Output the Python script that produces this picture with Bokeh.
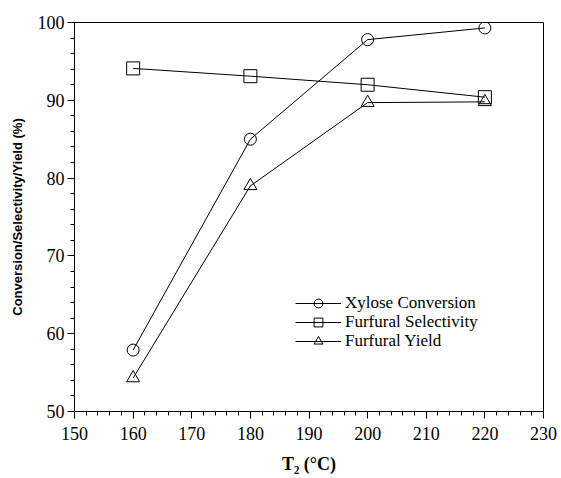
from bokeh.plotting import figure
from bokeh.models import FixedTicker, Range1d, Legend, LegendItem
from bokeh.embed import file_html
from bokeh.resources import INLINE

temps = [160, 180, 200, 220]
xylose_conversion = [57.9, 85.0, 97.8, 99.3]
furfural_selectivity = [94.1, 93.1, 92.0, 90.4]
furfural_yield = [54.3, 79.0, 89.7, 89.8]

x_ticks = [150, 160, 170, 180, 190, 200, 210, 220, 230]
y_ticks = [50, 60, 70, 80, 90, 100]

p = figure(width=560, height=477, output_backend="svg", toolbar_location=None,
           x_range=Range1d(150, 230), y_range=Range1d(50, 100),
           min_border_left=74, min_border_right=17, min_border_top=22, min_border_bottom=66)
p.xgrid.visible = False
p.ygrid.visible = False
p.outline_line_color = "black"
p.outline_line_width = 1
p.background_fill_color = "white"
p.border_fill_color = "white"

serif = "Liberation Serif"

p.xaxis.ticker = FixedTicker(ticks=x_ticks, minor_ticks=list(range(150, 231, 2)))
p.yaxis.ticker = FixedTicker(ticks=y_ticks, minor_ticks=list(range(50, 101, 2)))
for ax in (p.xaxis[0], p.yaxis[0]):
    ax.axis_line_color = "black"
    ax.major_tick_line_color = "black"
    ax.minor_tick_line_color = "black"
    ax.major_tick_in = 0
    ax.major_tick_out = 7
    ax.minor_tick_in = 0
    ax.minor_tick_out = 4
    ax.major_label_text_font = serif
    ax.major_label_text_font_size = "18px"
    ax.major_label_text_color = "black"
    ax.axis_label_text_color = "black"

p.xaxis.major_label_standoff = 8
p.yaxis.major_label_standoff = 3
p.xaxis.axis_label = "T\u2082 (\u00b0C)"
p.xaxis.axis_label_text_font = serif
p.xaxis.axis_label_text_font_style = "bold"
p.xaxis.axis_label_text_font_size = "18px"
p.xaxis.axis_label_standoff = 11
p.yaxis.axis_label = "Conversion/Selectivity/Yield (%)"
p.yaxis.axis_label_text_font = "Liberation Sans"
p.yaxis.axis_label_text_font_style = "bold"
p.yaxis.axis_label_text_font_size = "13px"
p.yaxis.axis_label_standoff = 10

l1 = p.line(temps, xylose_conversion, line_color="black", line_width=1)
m1 = p.scatter(temps, xylose_conversion, marker="circle", size=12,
               line_color="black", fill_color=None, line_width=1)
l2 = p.line(temps, furfural_selectivity, line_color="black", line_width=1)
m2 = p.scatter(temps, furfural_selectivity, marker="square", size=13,
               line_color="black", fill_color=None, line_width=1)
l3 = p.line(temps, furfural_yield, line_color="black", line_width=1)
m3 = p.scatter(temps, furfural_yield, marker="triangle", size=13,
               line_color="black", fill_color=None, line_width=1)

entries = [("Xylose Conversion", [l1, m1], 97),
           ("Furfural Selectivity", [l2, m2], 78),
           ("Furfural Yield", [l3, m3], 59)]
for label, rends, ypos in entries:
    lg = Legend(items=[LegendItem(label=label, renderers=rends)], location=(221, ypos))
    lg.border_line_color = None
    lg.background_fill_alpha = 0
    lg.padding = 0
    lg.margin = 0
    lg.spacing = 0
    lg.glyph_width = 46
    lg.glyph_height = 22
    lg.label_height = 16
    lg.label_standoff = 4
    lg.label_text_font = serif
    lg.label_text_font_size = "17px"
    lg.label_text_color = "black"
    p.add_layout(lg, "center")

open("out.html", "w").write(file_html(p, INLINE))
